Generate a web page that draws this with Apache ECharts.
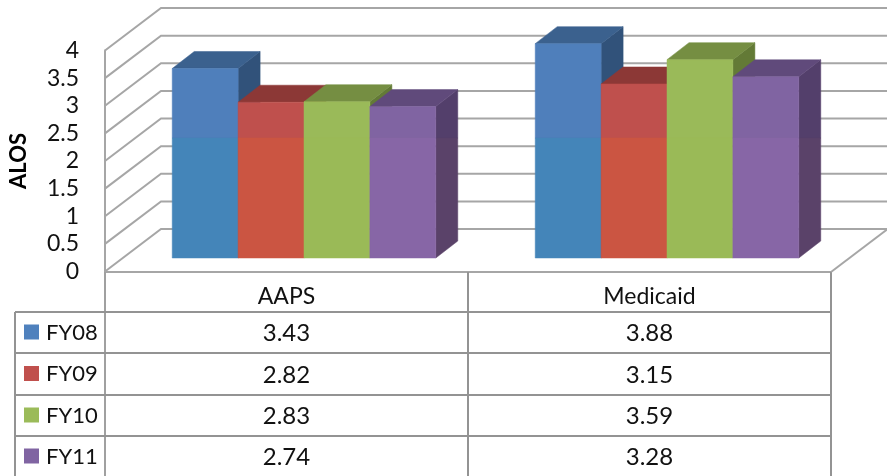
<!DOCTYPE html>
<html>
<head>
<meta charset="utf-8">
<title>ALOS</title>
<script src="https://cdn.jsdelivr.net/npm/echarts@6/dist/echarts.min.js"></script>
<style>
html, body { margin: 0; padding: 0; background: #fff; }
#main { width: 887px; height: 476px; }
</style>
</head>
<body>
<div id="main"></div>
<script>
var categories = ['AAPS', 'Medicaid'];
var seriesNames = ['FY08', 'FY09', 'FY10', 'FY11'];
var fy08 = [3.43, 3.88];
var fy09 = [2.82, 3.15];
var fy10 = [2.83, 3.59];
var fy11 = [2.74, 3.28];
var yTicks = [0, 0.5, 1, 1.5, 2, 2.5, 3, 3.5, 4];
var allValues = [fy08, fy09, fy10, fy11];

// the reference has a faint horizontal colour break across the bars at this value
var breakValue = 2.17;

var colors = [
    { upper: '#4f7fbb', lower: '#4485b9', top: '#3b618e', side: '#31527a', sideLow: '#31527a', key: '#4f81bd' },
    { upper: '#bf504d', lower: '#cb5542', top: '#8c3836', side: '#8c3836', sideLow: '#8c3836', key: '#c0504d' },
    { upper: '#9aba59', lower: '#9aba57', top: '#758e42', side: '#637a36', sideLow: '#637a36', key: '#9bbb59' },
    { upper: '#8064a2', lower: '#8766a6', top: '#604a7b', side: '#533f6b', sideLow: '#5a4269', key: '#8064a2' }
];

var lineColor = '#a6a6a6';
var tableColor = '#939393';
var textColor = '#111';
var fontName = 'Lato, "Open Sans", sans-serif';

// 3d look, all in pixels
var wallDx = 56, wallDy = -42.5;
var plateDx = 17.5, plateDy = -13.5;
var depthDx = 22, depthDy = -17;
var barShare = 0.1815;

var poly = function (points, fill) {
    return { type: 'polygon', shape: { points: points }, style: { fill: fill, stroke: fill, lineWidth: 0.5 } };
};

var wallItem = function (params, api) {
    var rect = params.coordSys;
    var p = api.coord([0, api.value(0)]);
    var y = p[1];
    return {
        type: 'polyline',
        shape: { points: [[rect.x, y], [rect.x + wallDx, y + wallDy], [rect.x + rect.width + wallDx, y + wallDy]] },
        style: { fill: 'none', stroke: lineColor, lineWidth: 2 }
    };
};

var barItem = function (index) {
    return function (params, api) {
        var cat = api.value(0);
        var val = api.value(1);
        var barW = api.size([1, 0])[0] * barShare;
        var head = api.coord([cat, val]);
        var foot = api.coord([cat, 0]);
        var cut = api.coord([cat, breakValue]);
        var x0 = head[0] + (index - 2) * barW + plateDx;
        var x1 = x0 + barW;
        var yTop = head[1] + plateDy;
        var yFoot = foot[1] + plateDy;
        var yCut = cut[1] + plateDy;
        var c = colors[index];
        return {
            type: 'group',
            children: [
                // the break runs level across the side face too
                poly([[x1, yTop], [x1 + depthDx, yTop + depthDy], [x1 + depthDx, yCut], [x1, yCut]], c.side),
                poly([[x1, yCut], [x1 + depthDx, yCut], [x1 + depthDx, yFoot + depthDy], [x1, yFoot]], c.sideLow),
                poly([[x0, yTop], [x0 + depthDx, yTop + depthDy], [x1 + depthDx, yTop + depthDy], [x1, yTop]], c.top),
                poly([[x0, yTop], [x1, yTop], [x1, yCut], [x0, yCut]], c.upper),
                poly([[x0, yCut], [x1, yCut], [x1, yFoot], [x0, yFoot]], c.lower)
            ]
        };
    };
};

var series = [{
    type: 'custom',
    name: 'walls',
    silent: true,
    z: 1,
    renderItem: wallItem,
    encode: { y: 0 },
    data: yTicks.map(function (t) { return [t]; })
}];

seriesNames.forEach(function (name, i) {
    series.push({
        type: 'custom',
        name: name,
        z: 2 + i,
        renderItem: barItem(i),
        encode: { x: 0, y: 1 },
        data: allValues[i].map(function (v, j) { return [j, v]; })
    });
});

// data table under the plot
var tableLeft = 15, keyCol = 105, midCol = 468, tableRight = 831;
var plotBottom = 272;
var rowLines = [312, 353, 395, 436, 477];

var tableLine = function (x1, y1, x2, y2, color) {
    return {
        type: 'line',
        z: 10,
        shape: { x1: x1, y1: y1, x2: x2, y2: y2 },
        style: { stroke: color || tableColor, lineWidth: 2 }
    };
};

var tableGraphics = [];
tableGraphics.push(tableLine(keyCol, plotBottom, keyCol, 476, '#a0a0a0'));
tableGraphics.push(tableLine(midCol, plotBottom, midCol, 476));
tableGraphics.push(tableLine(tableRight, plotBottom, tableRight, 476));
tableGraphics.push(tableLine(tableLeft, rowLines[0], tableLeft, 476));
rowLines.forEach(function (y) {
    tableGraphics.push(tableLine(tableLeft, y, tableRight, y));
});
// floor right edge
tableGraphics.push(tableLine(tableRight, plotBottom, tableRight + wallDx, plotBottom + wallDy, lineColor));

seriesNames.forEach(function (name, i) {
    var yMid = (rowLines[i] + rowLines[i + 1]) / 2;
    tableGraphics.push({
        type: 'rect',
        z: 11,
        shape: { x: 24, y: yMid - 8, width: 15, height: 15 },
        style: { fill: colors[i].key }
    });
    tableGraphics.push({
        type: 'text',
        z: 11,
        style: { x: 46, y: yMid, text: name, font: '22px ' + fontName, fill: textColor, textVerticalAlign: 'middle' }
    });
    categories.forEach(function (cat, j) {
        tableGraphics.push({
            type: 'text',
            z: 11,
            style: {
                x: (j === 0 ? (keyCol + midCol) : (midCol + tableRight)) / 2,
                y: yMid + 1,
                text: allValues[i][j].toFixed(2),
                font: '24px ' + fontName,
                fill: textColor,
                textAlign: 'center',
                textVerticalAlign: 'middle'
            }
        });
    });
});

var myChart = echarts.init(document.getElementById('main'), null, { renderer: 'canvas' });

var option = {
    backgroundColor: '#fff',
    animation: false,
    grid: { left: 105, right: 56, top: 50.5, height: 221, outerBoundsMode: 'none' },
    xAxis: {
        type: 'category',
        data: categories,
        axisTick: { show: false },
        axisLine: { show: true, lineStyle: { color: lineColor, width: 2 } },
        axisLabel: { color: textColor, fontFamily: fontName, fontSize: 23, margin: 14 }
    },
    yAxis: {
        type: 'value',
        min: 0,
        max: 4,
        interval: 0.5,
        name: 'ALOS',
        nameLocation: 'middle',
        nameGap: 75,
        nameTextStyle: { color: '#000', fontFamily: fontName, fontSize: 22, fontWeight: 'bold' },
        splitLine: { show: false },
        axisTick: { show: false },
        axisLine: { show: true, lineStyle: { color: lineColor, width: 2 } },
        axisLabel: {
            color: textColor,
            fontFamily: fontName,
            fontSize: 23,
            margin: 26,
            formatter: function (v) { return String(v); }
        }
    },
    series: series,
    graphic: tableGraphics
};

myChart.setOption(option);
</script>
</body>
</html>
